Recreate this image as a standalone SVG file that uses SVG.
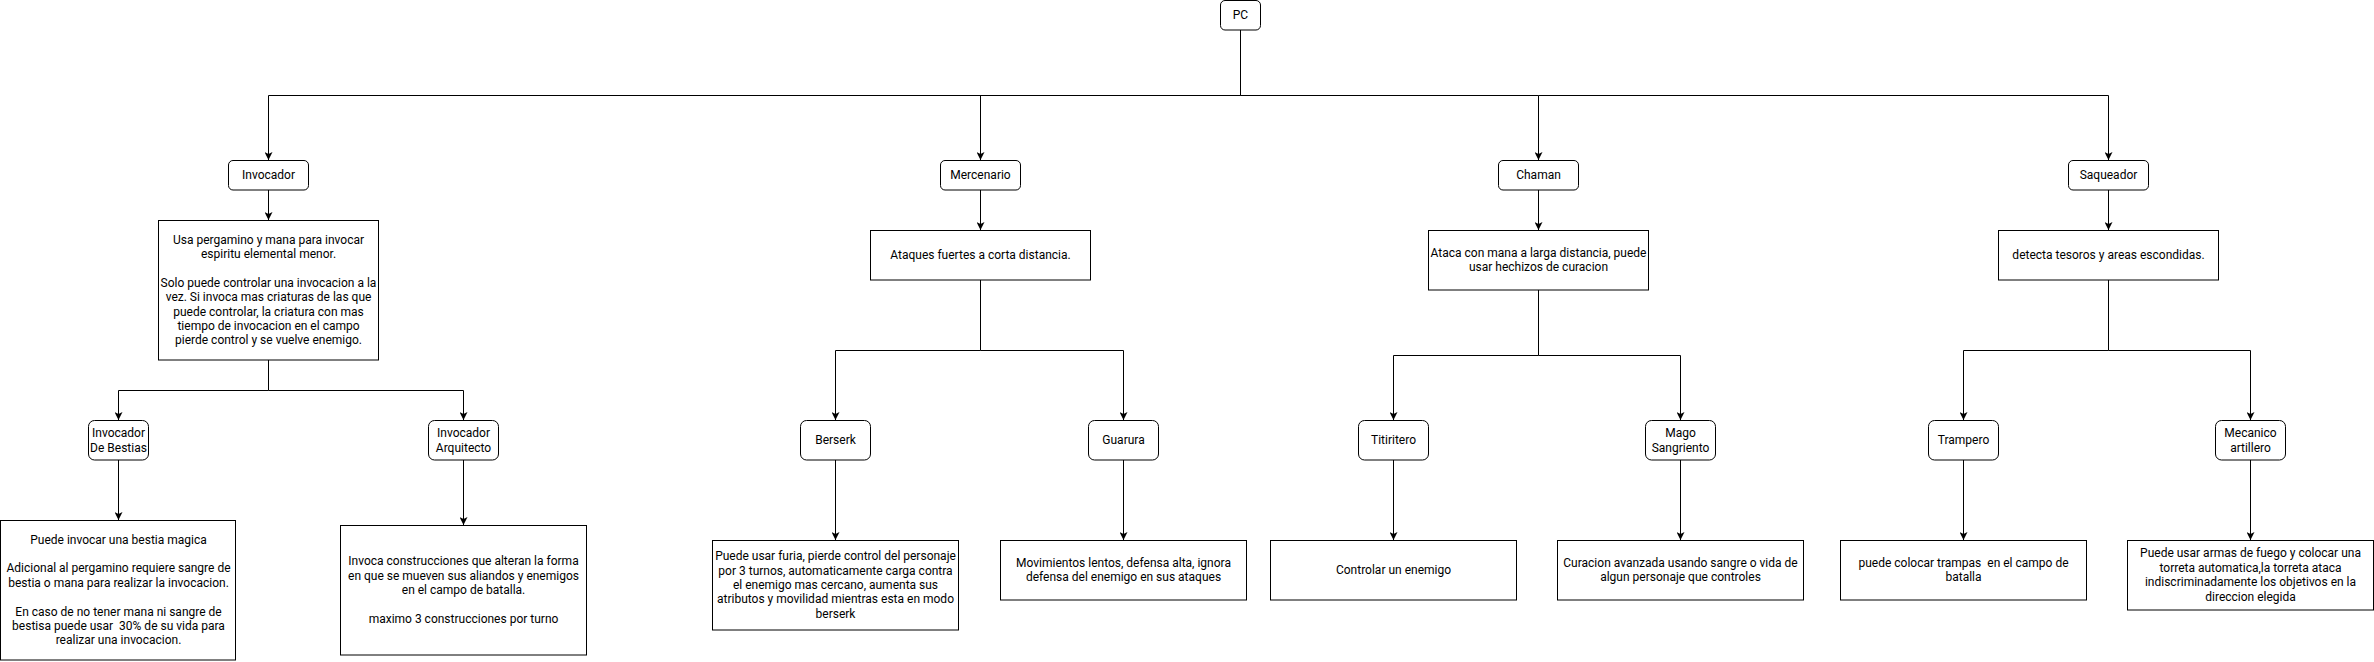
<svg xmlns="http://www.w3.org/2000/svg" width="2374" height="662" viewBox="0 0 2374 662">
<style>
.n{fill:#fff;stroke:#000;stroke-width:1}
.t{font-family:Roboto,"Liberation Sans",sans-serif;font-size:12px;fill:#000;text-anchor:middle;white-space:pre}
.c{fill:none;stroke:#000;stroke-width:1}
</style>
<defs>
<marker id="a" markerUnits="userSpaceOnUse" markerWidth="8" markerHeight="8" viewBox="0 0 8 8" refX="8" refY="4" orient="auto">
<path d="M0,0 L8,4 L0,8 L2,4 Z" fill="#000"/>
</marker>
</defs>
<rect width="2374" height="662" fill="#fff"/>
<g id="connectors">
<path class="c" d="M1240.5 30 V95.5 H268.5 V160" marker-end="url(#a)"/>
<path class="c" d="M1240.5 95.5 H980.5 V160" marker-end="url(#a)"/>
<path class="c" d="M1240.5 95.5 H1538.5 V160" marker-end="url(#a)"/>
<path class="c" d="M1538.5 95.5 H2108.5 V160" marker-end="url(#a)"/>
<path class="c" d="M268.5 190 V220" marker-end="url(#a)"/>
<path class="c" d="M980.5 190 V230" marker-end="url(#a)"/>
<path class="c" d="M1538.5 190 V230" marker-end="url(#a)"/>
<path class="c" d="M2108.5 190 V230" marker-end="url(#a)"/>
<path class="c" d="M268.5 360 V390.5 H118.5 V420" marker-end="url(#a)"/>
<path class="c" d="M268.5 390.5 H463.5 V420" marker-end="url(#a)"/>
<path class="c" d="M980.5 280 V350.5 H835.5 V420" marker-end="url(#a)"/>
<path class="c" d="M980.5 350.5 H1123.5 V420" marker-end="url(#a)"/>
<path class="c" d="M1538.5 290 V355.5 H1393.5 V420" marker-end="url(#a)"/>
<path class="c" d="M1538.5 355.5 H1680.5 V420" marker-end="url(#a)"/>
<path class="c" d="M2108.5 280 V350.5 H1963.5 V420" marker-end="url(#a)"/>
<path class="c" d="M2108.5 350.5 H2250.5 V420" marker-end="url(#a)"/>
<path class="c" d="M118.5 460 V520" marker-end="url(#a)"/>
<path class="c" d="M463.5 460 V525" marker-end="url(#a)"/>
<path class="c" d="M835.5 460 V540" marker-end="url(#a)"/>
<path class="c" d="M1123.5 460 V540" marker-end="url(#a)"/>
<path class="c" d="M1393.5 460 V540" marker-end="url(#a)"/>
<path class="c" d="M1680.5 460 V540" marker-end="url(#a)"/>
<path class="c" d="M1963.5 460 V540" marker-end="url(#a)"/>
<path class="c" d="M2250.5 460 V540" marker-end="url(#a)"/>
</g>
<g id="pc"><rect class="n" x="1220.5" y="0.5" width="40" height="29.5" rx="4.5"/><text class="t" x="1240.5" y="19">PC</text></g>
<g id="invocador"><rect class="n" x="228.5" y="160.5" width="80" height="29.5" rx="4.5"/><text class="t" x="268.5" y="179">Invocador</text></g>
<g id="mercenario"><rect class="n" x="940.5" y="160.5" width="80" height="29.5" rx="4.5"/><text class="t" x="980.5" y="179">Mercenario</text></g>
<g id="chaman"><rect class="n" x="1498.5" y="160.5" width="80" height="29.5" rx="4.5"/><text class="t" x="1538.5" y="179">Chaman</text></g>
<g id="saqueador"><rect class="n" x="2068.5" y="160.5" width="80" height="29.5" rx="4.5"/><text class="t" x="2108.5" y="179">Saqueador</text></g>
<g id="invocador-desc"><rect class="n" x="158.5" y="220.5" width="220" height="139.5"/>
<text class="t"><tspan x="268.5" y="243.6">Usa pergamino y mana para invocar</tspan><tspan x="268.5" y="258">espiritu elemental menor.</tspan><tspan x="268.5" y="286.8">Solo puede controlar una invocacion a la</tspan><tspan x="268.5" y="301.2">vez. Si invoca mas criaturas de las que</tspan><tspan x="268.5" y="315.6">puede controlar, la criatura con mas</tspan><tspan x="268.5" y="330">tiempo de invocacion en el campo</tspan><tspan x="268.5" y="344.4">pierde control y se vuelve enemigo.</tspan></text></g>
<g id="mercenario-desc"><rect class="n" x="870.5" y="230.5" width="220" height="49.5"/><text class="t" x="980.5" y="259">Ataques fuertes a corta distancia.</text></g>
<g id="chaman-desc"><rect class="n" x="1428.5" y="230.5" width="220" height="59.5"/>
<text class="t"><tspan x="1538.5" y="256.8">Ataca con mana a larga distancia, puede</tspan><tspan x="1538.5" y="271.2">usar hechizos de curacion</tspan></text></g>
<g id="saqueador-desc"><rect class="n" x="1998.5" y="230.5" width="220" height="49.5"/><text class="t" x="2108.5" y="259">detecta tesoros y areas escondidas.</text></g>
<g id="bestias"><rect class="n" x="88.5" y="420.5" width="60" height="39.5" rx="6"/><text class="t"><tspan x="118.5" y="437.4">Invocador</tspan><tspan x="118.5" y="451.8">De Bestias</tspan></text></g>
<g id="arquitecto"><rect class="n" x="428.5" y="420.5" width="70" height="39.5" rx="6"/><text class="t"><tspan x="463.5" y="437.4">Invocador</tspan><tspan x="463.5" y="451.8">Arquitecto</tspan></text></g>
<g id="berserk"><rect class="n" x="800.5" y="420.5" width="70" height="39.5" rx="6"/><text class="t" x="835.5" y="444">Berserk</text></g>
<g id="guarura"><rect class="n" x="1088.5" y="420.5" width="70" height="39.5" rx="6"/><text class="t" x="1123.5" y="444">Guarura</text></g>
<g id="titiritero"><rect class="n" x="1358.5" y="420.5" width="70" height="39.5" rx="6"/><text class="t" x="1393.5" y="444">Titiritero</text></g>
<g id="mago"><rect class="n" x="1645.5" y="420.5" width="70" height="39.5" rx="6"/><text class="t"><tspan x="1680.5" y="437.4">Mago</tspan><tspan x="1680.5" y="451.8">Sangriento</tspan></text></g>
<g id="trampero"><rect class="n" x="1928.5" y="420.5" width="70" height="39.5" rx="6"/><text class="t" x="1963.5" y="444">Trampero</text></g>
<g id="mecanico"><rect class="n" x="2215.5" y="420.5" width="70" height="39.5" rx="6"/><text class="t"><tspan x="2250.5" y="437.4">Mecanico</tspan><tspan x="2250.5" y="451.8">artillero</tspan></text></g>
<g id="bestias-desc"><rect class="n" x="0.5" y="520.5" width="235" height="139.5"/>
<text class="t"><tspan x="118.5" y="543.6">Puede invocar una bestia magica</tspan><tspan x="118.5" y="572.4">Adicional al pergamino requiere sangre de</tspan><tspan x="118.5" y="586.8">bestia o mana para realizar la invocacion.</tspan><tspan x="118.5" y="615.6">En caso de no tener mana ni sangre de</tspan><tspan x="118.5" y="630">bestisa puede usar  30% de su vida para</tspan><tspan x="118.5" y="644.4">realizar una invocacion.</tspan></text></g>
<g id="arquitecto-desc"><rect class="n" x="340.5" y="525.5" width="246" height="129.5"/>
<text class="t"><tspan x="463.5" y="565.2">Invoca construcciones que alteran la forma</tspan><tspan x="463.5" y="579.6">en que se mueven sus aliandos y enemigos</tspan><tspan x="463.5" y="594">en el campo de batalla.</tspan><tspan x="463.5" y="622.8">maximo 3 construcciones por turno</tspan></text></g>
<g id="berserk-desc"><rect class="n" x="712.5" y="540.5" width="246" height="89.5"/>
<text class="t"><tspan x="835.5" y="560.2">Puede usar furia, pierde control del personaje</tspan><tspan x="835.5" y="574.6">por 3 turnos, automaticamente carga contra</tspan><tspan x="835.5" y="589">el enemigo mas cercano, aumenta sus</tspan><tspan x="835.5" y="603.4">atributos y movilidad mientras esta en modo</tspan><tspan x="835.5" y="617.8">berserk</tspan></text></g>
<g id="guarura-desc"><rect class="n" x="1000.5" y="540.5" width="246" height="59.5"/>
<text class="t"><tspan x="1123.5" y="566.8">Movimientos lentos, defensa alta, ignora</tspan><tspan x="1123.5" y="581.2">defensa del enemigo en sus ataques</tspan></text></g>
<g id="titiritero-desc"><rect class="n" x="1270.5" y="540.5" width="246" height="59.5"/><text class="t" x="1393.5" y="574">Controlar un enemigo</text></g>
<g id="mago-desc"><rect class="n" x="1557.5" y="540.5" width="246" height="59.5"/>
<text class="t"><tspan x="1680.5" y="566.8">Curacion avanzada usando sangre o vida de</tspan><tspan x="1680.5" y="581.2">algun personaje que controles</tspan></text></g>
<g id="trampero-desc"><rect class="n" x="1840.5" y="540.5" width="246" height="59.5"/>
<text class="t"><tspan x="1963.5" y="566.8">puede colocar trampas  en el campo de</tspan><tspan x="1963.5" y="581.2">batalla</tspan></text></g>
<g id="mecanico-desc"><rect class="n" x="2127.5" y="540.5" width="246" height="69.5"/>
<text class="t"><tspan x="2250.5" y="557.4">Puede usar armas de fuego y colocar una</tspan><tspan x="2250.5" y="571.8">torreta automatica,la torreta ataca</tspan><tspan x="2250.5" y="586.2">indiscriminadamente los objetivos en la</tspan><tspan x="2250.5" y="600.6">direccion elegida</tspan></text></g>
</svg>
